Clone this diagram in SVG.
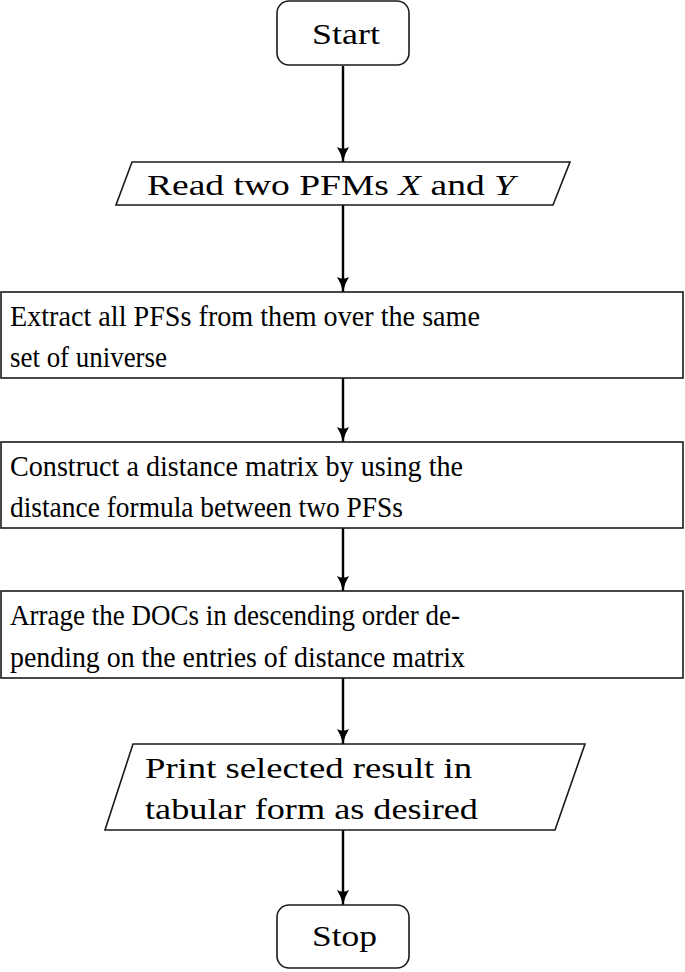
<svg xmlns="http://www.w3.org/2000/svg" width="685" height="972" viewBox="0 0 685 972">
<style>
.shape{fill:#fff;stroke:#1a1a1a;stroke-width:1.6}
.t{font-family:"Liberation Serif","Times New Roman",serif;font-size:29px;fill:#000}
.it{font-style:italic}
.conn{stroke:#000;stroke-width:2.4;fill:none}
</style>
<defs>
<marker id="arr" markerUnits="userSpaceOnUse" markerWidth="16" markerHeight="16" viewBox="0 0 16 16" refX="15" refY="8" orient="auto">
<path d="M0,2 Q7,6.5 15,8 Q7,9.5 0,14 Q3.5,8 0,2 Z" fill="#000"/>
</marker>
</defs>
<g id="connectors">
<line class="conn" x1="343" y1="66" x2="343" y2="162" marker-end="url(#arr)"/>
<line class="conn" x1="343" y1="205" x2="343" y2="292" marker-end="url(#arr)"/>
<line class="conn" x1="343" y1="378" x2="343" y2="442" marker-end="url(#arr)"/>
<line class="conn" x1="343" y1="528" x2="343" y2="591" marker-end="url(#arr)"/>
<line class="conn" x1="343" y1="678" x2="343" y2="744" marker-end="url(#arr)"/>
<line class="conn" x1="343" y1="830" x2="343" y2="905" marker-end="url(#arr)"/>
</g>
<g id="start">
<rect class="shape" x="277" y="1" width="132" height="64" rx="12"/>
<text class="t" x="312" y="44" textLength="68" lengthAdjust="spacingAndGlyphs">Start</text>
</g>
<g id="read">
<polygon class="shape" points="132,162 570,162 553,205 116,205"/>
<text class="t" x="147" y="195" textLength="368" lengthAdjust="spacingAndGlyphs">Read two PFMs <tspan class="it">X</tspan> and <tspan class="it">Y</tspan></text>
</g>
<g id="extract">
<rect class="shape" x="1" y="292" width="682" height="86"/>
<text class="t" x="10" y="326" textLength="470" lengthAdjust="spacingAndGlyphs">Extract all PFSs from them over the same</text>
<text class="t" x="10" y="367" textLength="157" lengthAdjust="spacingAndGlyphs">set of universe</text>
</g>
<g id="construct">
<rect class="shape" x="1" y="442" width="682" height="86"/>
<text class="t" x="10" y="476" textLength="453" lengthAdjust="spacingAndGlyphs">Construct a distance matrix by using the</text>
<text class="t" x="10" y="517" textLength="393" lengthAdjust="spacingAndGlyphs">distance formula between two PFSs</text>
</g>
<g id="arrange">
<rect class="shape" x="1" y="591" width="682" height="87"/>
<text class="t" x="10" y="625" textLength="450" lengthAdjust="spacingAndGlyphs">Arrage the DOCs in descending order de-</text>
<text class="t" x="10" y="667" textLength="455" lengthAdjust="spacingAndGlyphs">pending on the entries of distance matrix</text>
</g>
<g id="print">
<polygon class="shape" points="133,744 585,744 555,830 105,830"/>
<text class="t" x="145" y="778" textLength="327" lengthAdjust="spacingAndGlyphs">Print selected result in</text>
<text class="t" x="145" y="819" textLength="333" lengthAdjust="spacingAndGlyphs">tabular form as desired</text>
</g>
<g id="stop">
<rect class="shape" x="277" y="905" width="132" height="63" rx="12"/>
<text class="t" x="312" y="946" textLength="65" lengthAdjust="spacingAndGlyphs">Stop</text>
</g>
</svg>
